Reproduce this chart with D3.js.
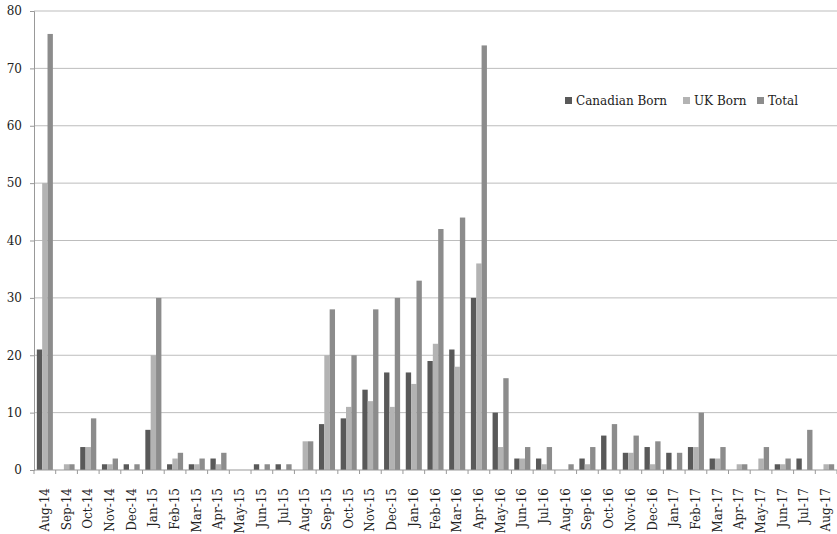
<!DOCTYPE html>
<html>
<head>
<meta charset="utf-8">
<script src="https://cdn.jsdelivr.net/npm/d3@7"></script>
<style>
  body { margin: 0; background: #fff; }
  text { font-family: "DejaVu Serif", "Liberation Serif", serif; fill: #222; }
</style>
</head>
<body>
<script>
// monthly counts
const months = ['Aug-14','Sep-14','Oct-14','Nov-14','Dec-14','Jan-15','Feb-15','Mar-15','Apr-15','May-15',
  'Jun-15','Jul-15','Aug-15','Sep-15','Oct-15','Nov-15','Dec-15','Jan-16','Feb-16','Mar-16','Apr-16',
  'May-16','Jun-16','Jul-16','Aug-16','Sep-16','Oct-16','Nov-16','Dec-16','Jan-17','Feb-17','Mar-17',
  'Apr-17','May-17','Jun-17','Jul-17','Aug-17']
const canadian = [21,0,4,1,1,7,1,1,2,0, 1,1,0,8,9,14,17,17,19,21,30, 10,2,2,0,2,6,3,4,3,4,2, 0,0,1,2,0]
const ukBorn   = [50,1,4,1,0,20,2,1,1,0, 0,0,5,20,11,12,11,15,22,18,36, 4,2,1,0,1,0,3,1,0,4,2, 1,2,1,0,1]
const total    = [76,1,9,2,1,30,3,2,3,0, 1,1,5,28,20,28,30,33,42,44,74, 16,4,4,1,4,8,6,5,3,10,4, 1,4,2,7,1]
const seriesNames = ['Canadian Born', 'UK Born', 'Total']
const colors = ['#595959', '#b3b3b3', '#8c8c8c']
const yTicks = [0,10,20,30,40,50,60,70,80]

const margin = { top: 11, right: 0, bottom: 64, left: 34 }
const width = 837 - margin.left - margin.right
const height = 534 - margin.top - margin.bottom

const svg = d3.select('body').append('svg')
    .attr('width', 837)
    .attr('height', 534)
const g = svg.append('g')
    .attr('transform', `translate(${margin.left},${margin.top})`)

const data = months.map((m, i) => ({ month: m, values: [canadian[i], ukBorn[i], total[i]] }))

const xScale = d3.scaleBand()
    .domain(months)
    .range([0, width])
    .padding(0)

const gap = xScale.bandwidth() * 0.13
const xSub = d3.scaleBand()
    .domain([0, 1, 2])
    .range([gap, xScale.bandwidth() - gap])

const yScale = d3.scaleLinear()
    .domain([0, 80])
    .range([height, 0])

// gridlines
g.selectAll('.grid')
    .data(yTicks.filter(d => d > 0))
    .enter().append('line')
    .attr('x1', 0)
    .attr('x2', width)
    .attr('y1', d => yScale(d))
    .attr('y2', d => yScale(d))
    .attr('stroke', '#bdbdbd')
    .attr('stroke-width', 1)

const groups = g.selectAll('.month')
    .data(data)
    .enter().append('g')
    .attr('transform', d => `translate(${xScale(d.month)},0)`)

groups.selectAll('rect')
    .data(d => d.values)
    .enter().append('rect')
    .attr('x', (d, i) => xSub(i))
    .attr('width', xSub.bandwidth())
    .attr('y', d => yScale(d))
    .attr('height', d => yScale(0) - yScale(d))
    .attr('fill', (d, i) => colors[i])

const yAxis = d3.axisLeft(yScale).tickValues(yTicks).tickSize(4).tickPadding(8)
const yG = g.append('g').call(yAxis)
yG.select('.domain').attr('stroke', '#999')
yG.selectAll('.tick line').attr('stroke', '#999')
yG.selectAll('text').style('font-size', '12px').style('font-family', '"DejaVu Serif", serif').attr('fill', '#222')

// x axis with ticks between categories
const xG = g.append('g').attr('transform', `translate(0,${height})`)
xG.append('line')
    .attr('x1', 0).attr('x2', width)
    .attr('stroke', '#999')
xG.selectAll('.xtick')
    .data(months.concat(['end']))
    .enter().append('line')
    .attr('x1', (d, i) => i * xScale.step())
    .attr('x2', (d, i) => i * xScale.step())
    .attr('y1', 0).attr('y2', 4)
    .attr('stroke', '#999')
xG.selectAll('.xlabel')
    .data(months)
    .enter().append('text')
    .attr('transform', d => `translate(${xScale(d) + xScale.bandwidth() / 2 + 4},18) rotate(-90)`)
    .attr('text-anchor', 'end')
    .style('font-size', '12px')
    .text(d => d)

// legend
const legend = svg.append('g').attr('transform', 'translate(565,102)')
const legendX = [0, 118, 192]
seriesNames.forEach((name, i) => {
    legend.append('rect')
        .attr('x', legendX[i]).attr('y', -5)
        .attr('width', 7).attr('height', 7)
        .attr('fill', colors[i])
    legend.append('text')
        .attr('x', legendX[i] + 11).attr('y', 3)
        .style('font-size', '12px')
        .text(name)
})
</script>
</body>
</html>
